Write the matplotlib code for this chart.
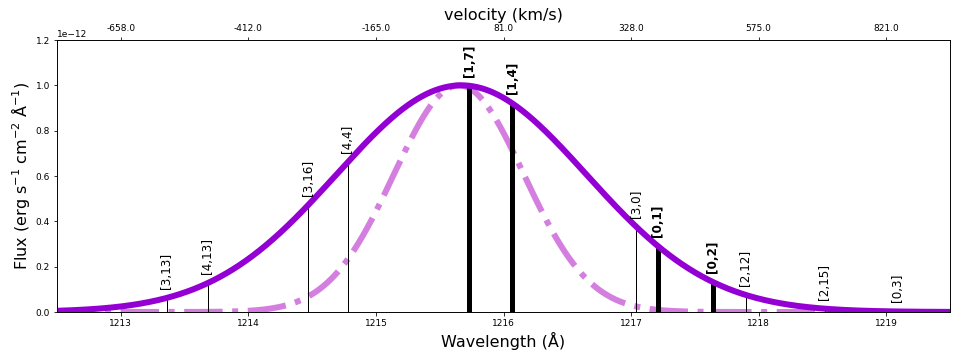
import numpy as np
import matplotlib
matplotlib.use("Agg")
import matplotlib.pyplot as plt

# ---- data ----
# Gaussian profile parameters (amplitude [erg/s/cm2/A], centre [A], sigma [A])
intrinsic_amp, intrinsic_center, intrinsic_sigma = 1.0e-12, 1215.67, 0.98
narrow_amp, narrow_center, narrow_sigma = 1.0e-12, 1215.65, 0.51

line_waves = [1213.36, 1213.68, 1214.47, 1214.78, 1215.73, 1216.07,
              1217.04, 1217.21, 1217.64, 1217.90, 1218.52, 1219.09]
line_labels = ["[3,13]", "[4,13]", "[3,16]", "[4,4]", "[1,7]", "[1,4]",
               "[3,0]", "[0,1]", "[0,2]", "[2,12]", "[2,15]", "[0,3]"]
line_strong = [False, False, False, False, True, True,
               False, True, True, False, False, False]

wave_ticks = [1213, 1214, 1215, 1216, 1217, 1218, 1219]
velocity_labels = ["-658.0", "-412.0", "-165.0", "81.0", "328.0", "575.0", "821.0"]

xlim = (1212.5, 1219.5)
ylim = (0, 1.2e-12)

# ---- figure ----
DPI = 72
fig = plt.figure(figsize=(960 / DPI, 363 / DPI), dpi=DPI)
ax = fig.add_axes([57 / 960, 1 - 312 / 363, (950 - 57) / 960, (312 - 40) / 363])

wl = np.linspace(xlim[0], xlim[1], 1500)
prof = intrinsic_amp * np.exp(-0.5 * ((wl - intrinsic_center) / intrinsic_sigma) ** 2)
narrow = narrow_amp * np.exp(-0.5 * ((wl - narrow_center) / narrow_sigma) ** 2)

ax.plot(wl, narrow, color="#D47FDF", lw=6, ls="-.", zorder=1)
ax.plot(wl, prof, color="darkviolet", lw=6, zorder=3)

for w, lab, strong in zip(line_waves, line_labels, line_strong):
    top = intrinsic_amp * np.exp(-0.5 * ((w - intrinsic_center) / intrinsic_sigma) ** 2)
    ax.vlines(w, 0, top, color="black", lw=5 if strong else 1, zorder=2)
    ax.text(w, top + 0.04e-12, lab, rotation=90, ha="center", va="bottom",
            fontsize=12, fontweight="bold" if strong else "normal", zorder=4)

ax.set_xlim(*xlim)
ax.set_ylim(*ylim)
ax.set_xticks(wave_ticks)
ax.set_yticks(np.arange(0, 1.21e-12, 0.2e-12))
ax.tick_params(labelsize=9)
ax.yaxis.get_offset_text().set_fontsize(9)
ax.set_xlabel("Wavelength (Å)", fontsize=16)
ax.set_ylabel("Flux (erg s$^{-1}$ cm$^{-2}$ Å$^{-1}$)", fontsize=16)

ax2 = ax.twiny()
ax2.set_xlim(*xlim)
ax2.set_xticks(wave_ticks)
ax2.set_xticklabels(velocity_labels)
ax2.tick_params(labelsize=9)
ax2.set_xlabel("velocity (km/s)", fontsize=16)

fig.savefig("out.png", dpi=DPI)
